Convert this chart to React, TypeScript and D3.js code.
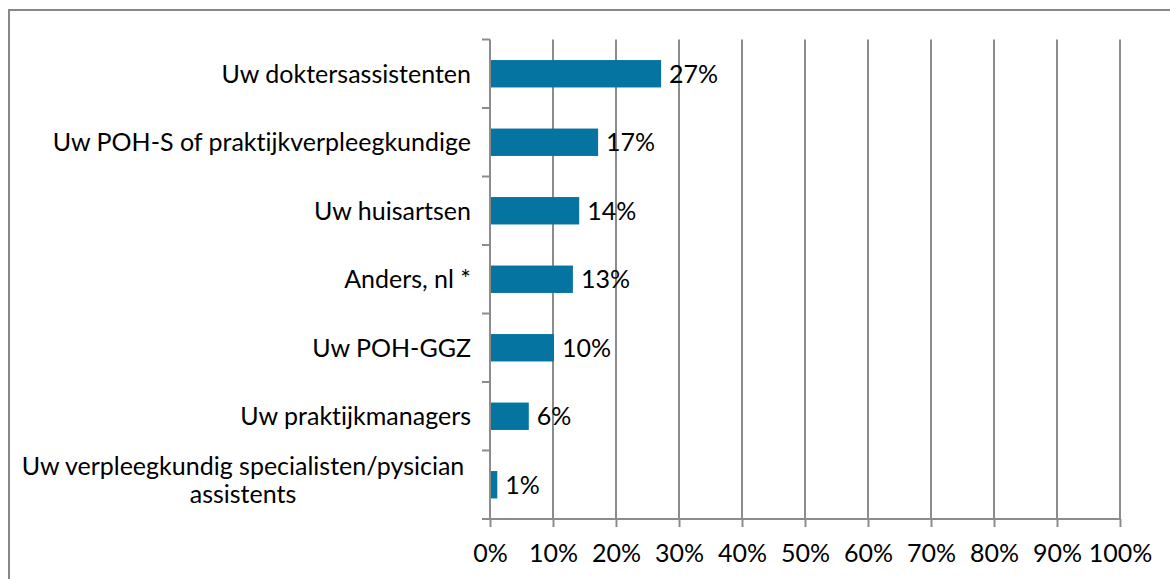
import React, { useEffect, useRef } from 'react';
import * as d3 from 'd3';

const categories = [
  'Uw doktersassistenten',
  'Uw POH-S of praktijkverpleegkundige',
  'Uw huisartsen',
  'Anders, nl *',
  'Uw POH-GGZ',
  'Uw praktijkmanagers',
  'Uw verpleegkundig specialisten/pysician assistents',
];
const values = [27, 17, 14, 13, 10, 6, 1];
const xTicks = [0, 10, 20, 30, 40, 50, 60, 70, 80, 90, 100];

export default function App() {
  const ref = useRef<SVGSVGElement | null>(null);
  useEffect(() => {
    const svg = d3.select(ref.current);
    svg.selectAll('*').remove();
    const width = 1170, height = 579;
    const font = 'Lato, Calibri, sans-serif';
    const fs = 25;
    const top = 39.5, bottom = 519;

    const x = d3.scaleLinear().domain([0, 100]).range([490, 1120]);
    const y = d3.scaleBand().domain(categories).range([top, bottom]).paddingInner(0.6).paddingOuter(0.3);
    const bandStep = (bottom - top) / categories.length;

    svg.attr('width', width).attr('height', height)
      .style('font-variant-ligatures', 'none');
    svg.append('rect').attr('x', 9).attr('y', 10).attr('width', 1200).attr('height', 600)
      .attr('fill', '#fff').attr('stroke', '#878787').attr('stroke-width', 2);

    // vertical grid
    svg.append('g').selectAll('line').data(xTicks.slice(1)).join('line')
      .attr('x1', d => x(d)).attr('x2', d => x(d)).attr('y1', top).attr('y2', bottom)
      .attr('stroke', '#8c8c8c').attr('stroke-width', 2);

    // bottom axis
    const gx = svg.append('g').attr('transform', `translate(0,${bottom})`)
      .call(d3.axisBottom(x).tickValues(xTicks).tickSize(8).tickPadding(17).tickFormat(d => `${d}%`));
    gx.select('.domain').attr('stroke', '#8c8c8c').attr('stroke-width', 2).attr('d', `M482,0H${x(100)}`);
    gx.selectAll('.tick line').attr('stroke', '#8c8c8c').attr('stroke-width', 2);
    gx.selectAll('.tick text').attr('font-family', font).attr('font-size', fs).attr('fill', '#000');

    // left axis line + ticks at band boundaries
    svg.append('line').attr('x1', 490).attr('x2', 490).attr('y1', top).attr('y2', bottom)
      .attr('stroke', '#8c8c8c').attr('stroke-width', 2);
    svg.append('g').selectAll('line').data(d3.range(categories.length)).join('line')
      .attr('x1', 482).attr('x2', 490)
      .attr('y1', i => top + i * bandStep).attr('y2', i => top + i * bandStep)
      .attr('stroke', '#8c8c8c').attr('stroke-width', 2);

    // bars
    svg.append('g').selectAll('rect').data(values).join('rect')
      .attr('x', x(0) + 1)
      .attr('y', (d, i) => y(categories[i])!)
      .attr('width', d => x(d) - x(0))
      .attr('height', y.bandwidth())
      .attr('fill', '#0574a0');

    // value labels
    svg.append('g').selectAll('text').data(values).join('text')
      .attr('x', d => x(d) + 9)
      .attr('y', (d, i) => y(categories[i])! + y.bandwidth() / 2)
      .attr('dy', '0.36em')
      .attr('font-family', font).attr('font-size', fs)
      .text(d => `${d}%`);

    // category labels
    const lab = svg.append('g');
    categories.forEach((c, i) => {
      const cy = y(c)! + y.bandwidth() / 2;
      if (i === categories.length - 1) {
        const t = lab.append('text').attr('font-family', font).attr('font-size', fs)
          .attr('text-anchor', 'middle');
        t.append('tspan').attr('x', 243).attr('y', cy - 18.5).attr('dy', '0.36em').text('Uw verpleegkundig specialisten/pysician');
        t.append('tspan').attr('x', 243).attr('y', cy + 9.5).attr('dy', '0.36em').text('assistents');
      } else {
        lab.append('text').attr('x', 471).attr('y', cy).attr('dy', '0.36em')
          .attr('text-anchor', 'end').attr('font-family', font).attr('font-size', fs).text(c);
      }
    });
  }, []);
  return <svg ref={ref} style={{ display: 'block', position: 'absolute', left: 0, top: 0 }} />;
}
